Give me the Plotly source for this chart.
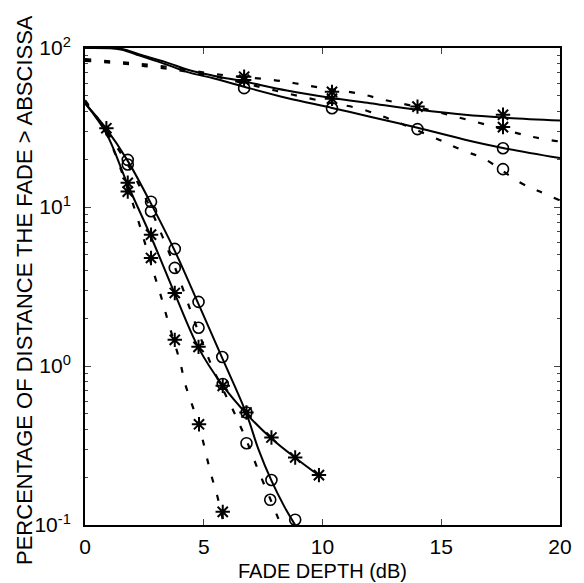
import plotly.graph_objects as go

# ---------------- data ----------------
x_ticks = [0, 5, 10, 15, 20]
y_tickvals = [0.1, 1, 10, 100]
y_ticktext = ["10<sup>-1</sup>", "10<sup>0</sup>", "10<sup>1</sup>", "10<sup>2</sup>"]

# upper (shallow) curves
s1_x = [0, 1.5, 2.3, 3.4, 4.4, 5.4, 6.7, 8.5, 10.4, 12, 14, 16, 17.6, 20]
s1_y = [100, 99, 91, 81.5, 72.5, 67, 61.5, 54, 48.5, 45, 41, 38, 36.5, 35]
s2_x = [0, 1.5, 2.3, 3.4, 4.4, 5.4, 6.7, 8.5, 10.4, 12, 14, 16, 17.6, 20]
s2_y = [100, 98, 89.5, 79, 70, 64.5, 57, 48.5, 42, 37, 31.5, 26.5, 23.5, 20.3]
d1_x = [0, 1.5, 2.5, 3.5, 4.5, 5.5, 6.7, 7.9, 8.83, 9.88, 11.63, 12.48, 14, 16.13, 18.8, 20]
d1_y = [85, 81.5, 79, 76, 72, 68.5, 65.5, 63, 60, 56.4, 51.4, 47.6, 42.5, 35.3, 27.7, 25.8]
d2_x = [0, 1.5, 2.5, 3.5, 4.5, 5.5, 6.7, 8, 9.5, 10.4, 11.5, 12.48, 13.25, 14.93, 15.84, 16.83, 18.3, 19.15, 20]
d2_y = [83, 80, 77, 74, 70, 66, 60, 54, 48, 45, 41.8, 37.4, 33.7, 26.4, 22.9, 20, 14.3, 12.5, 11]

up_star_x = [6.7, 6.7, 10.4, 10.4, 14.0, 17.6, 17.6]
up_star_y = [66, 63, 53, 48, 42.8, 38, 31.8]
up_circ_x = [6.7, 10.4, 14.0, 17.6, 17.6]
up_circ_y = [55.9, 41.8, 30.9, 23.4, 17.3]

# lower (steep) curves
a_x = [0, 0.9, 1.8, 2.78, 3.78, 4.78, 5.78, 6.8, 7.3, 7.85, 8.4, 8.85]
a_y = [45, 31, 19.5, 10.5, 5.3, 2.45, 1.12, 0.5, 0.3, 0.19, 0.13, 0.1]
c_x = [0, 0.9, 1.8, 2.78, 3.78, 4.78, 5.78, 6.8, 7.85, 8.85, 9.85]
c_y = [45, 29, 13.8, 6.5, 2.85, 1.3, 0.76, 0.5, 0.35, 0.265, 0.205]
dd_x = [0, 0.9, 1.8, 2.13, 2.5, 2.96, 3.24, 3.49, 4.01, 4.22, 4.8, 5.3, 5.57, 5.85]
dd_y = [47, 29, 13, 9.3, 6.1, 3.58, 2.62, 1.92, 1.05, 0.77, 0.42, 0.21, 0.152, 0.1]
bd_x = [0, 0.9, 1.8, 2.27, 2.78, 3.78, 4.13, 4.48, 5.11, 5.46, 6.28, 6.8, 7.3, 7.85, 8.25]
bd_y = [46, 30, 18.5, 13.8, 9.6, 4.2, 3.03, 2.16, 1.21, 0.91, 0.51, 0.34, 0.22, 0.14, 0.1]

circ_a_x = [1.8, 2.78, 3.78, 4.78, 5.78, 6.8, 7.85, 8.85]
circ_a_y = [19.8, 10.8, 5.45, 2.53, 1.14, 0.51, 0.192, 0.108]
circ_b_x = [1.8, 2.78, 3.78, 4.78, 5.8, 6.8, 7.8]
circ_b_y = [18.5, 9.4, 4.14, 1.74, 0.77, 0.327, 0.144]
star_c_x = [0.9, 1.8, 2.78, 3.78, 4.78, 5.8, 6.8, 7.85, 8.85, 9.85]
star_c_y = [31.3, 14.2, 6.7, 2.88, 1.32, 0.75, 0.51, 0.355, 0.266, 0.206]
star_d_x = [1.8, 2.78, 3.78, 4.8, 5.8]
star_d_y = [12.5, 4.78, 1.46, 0.43, 0.121]

minor_vals = [m * 10 ** e for e in (-1, 0, 1) for m in range(2, 10)]

# ---------------- figure ----------------
fig = go.Figure()
solid = dict(color="black", width=2)
dashed = dict(color="black", width=2.2, dash="6px,13px")

for xs, ys in [(s1_x, s1_y), (s2_x, s2_y), (a_x, a_y), (c_x, c_y)]:
    fig.add_trace(go.Scatter(x=xs, y=ys, mode="lines", line=solid, line_shape="spline", showlegend=False))
for xs, ys in [(d1_x, d1_y), (d2_x, d2_y), (dd_x, dd_y), (bd_x, bd_y)]:
    fig.add_trace(go.Scatter(x=xs, y=ys, mode="lines", line=dashed, line_shape="spline", showlegend=False))

star_m = dict(symbol="asterisk-open", size=12, color="black", line=dict(color="black", width=2))
circ_m = dict(symbol="circle-open", size=11, color="black", line=dict(color="black", width=1.6))
for xs, ys in [(up_star_x, up_star_y), (star_c_x, star_c_y), (star_d_x, star_d_y)]:
    fig.add_trace(go.Scatter(x=xs, y=ys, mode="markers", marker=star_m, showlegend=False, cliponaxis=False))
for xs, ys in [(up_circ_x, up_circ_y), (circ_a_x, circ_a_y), (circ_b_x, circ_b_y)]:
    fig.add_trace(go.Scatter(x=xs, y=ys, mode="markers", marker=circ_m, showlegend=False, cliponaxis=False))

tick_font = dict(family="Liberation Sans, Arial, sans-serif", size=21, color="black")
xtitle_font = dict(family="Liberation Sans, Arial, sans-serif", size=20, color="black")
ytitle_font = dict(family="Liberation Sans, Arial, sans-serif", size=22, color="black")

fig.update_layout(
    width=584, height=583,
    margin=dict(l=85, r=22, t=48, b=58),
    paper_bgcolor="white", plot_bgcolor="white",
    font=tick_font,
    xaxis=dict(range=[0, 20], tickvals=x_ticks, ticks="inside", ticklen=6, tickwidth=1.2,
               showline=True, linecolor="black", linewidth=2, mirror="ticks",
               showgrid=False, zeroline=False, tickfont=tick_font, ticklabelstandoff=2),
    yaxis=dict(type="log", range=[-1, 2], tickvals=y_tickvals, ticktext=y_ticktext,
               ticks="inside", ticklen=6, tickwidth=1.2,
               showline=True, linecolor="black", linewidth=2, mirror="ticks",
               showgrid=False, zeroline=False, tickfont=tick_font, ticklabelstandoff=8,
               minor=dict(tickvals=minor_vals, ticks="inside", ticklen=3, tickwidth=1, showgrid=False)),
    annotations=[
        dict(text="FADE DEPTH (dB)", xref="paper", yref="paper", x=0.5, y=-0.096,
             xanchor="center", yanchor="middle", showarrow=False, font=xtitle_font),
        dict(text="PERCENTAGE OF DISTANCE THE FADE &gt; ABSCISSA", xref="paper", yref="paper",
             x=-0.126, y=0.493, xanchor="center", yanchor="middle", textangle=-90,
             showarrow=False, font=ytitle_font),
    ],
)

fig.write_html("out.html")
